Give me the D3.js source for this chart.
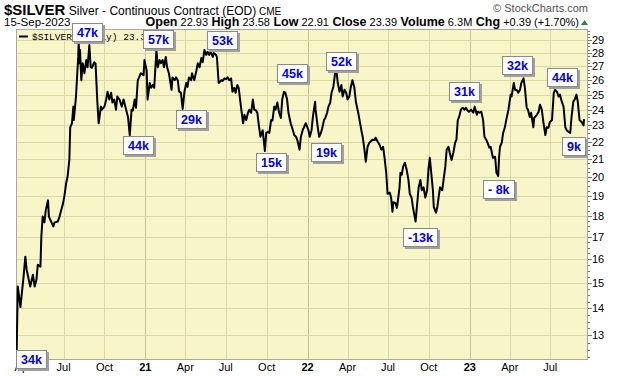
<!DOCTYPE html>
<html>
<head>
<meta charset="utf-8">
<script src="https://cdn.jsdelivr.net/npm/d3@7"></script>
<style>
  body { margin: 0; background: #fff; }
  svg { display: block; font-family: "Liberation Sans", Arial, sans-serif; }
</style>
</head>
<body>
<svg width="620" height="376"></svg>
<script>
// daily closes (date, price)
var silver2020 = [
  ["2020-03-17", 12.0], ["2020-03-20", 14.85], ["2020-03-26", 14.04], ["2020-04-02", 15.25], ["2020-04-06", 16.1],
  ["2020-04-09", 15.54], ["2020-04-17", 14.85], ["2020-04-23", 15.33], ["2020-04-27", 14.85], ["2020-05-01", 15.12],
  ["2020-05-04", 15.75], ["2020-05-10", 15.67], ["2020-05-12", 17.0], ["2020-05-15", 17.95], ["2020-05-19", 17.67],
  ["2020-05-22", 18.27], ["2020-05-27", 18.76], ["2020-05-29", 17.95], ["2020-06-08", 17.48], ["2020-06-11", 17.67],
  ["2020-06-18", 17.71], ["2020-06-22", 17.95], ["2020-06-26", 18.29], ["2020-06-30", 18.62], ["2020-07-03", 19.0],
  ["2020-07-07", 19.67], ["2020-07-10", 20.0], ["2020-07-14", 20.94], ["2020-07-16", 22.88], ["2020-07-20", 23.13],
  ["2020-07-23", 24.2], ["2020-07-24", 23.33], ["2020-07-29", 24.87], ["2020-07-31", 26.0], ["2020-08-03", 27.7],
  ["2020-08-04", 28.9], ["2020-08-06", 27.23], ["2020-08-07", 28.23], ["2020-08-10", 26.0], ["2020-08-13", 27.23],
  ["2020-08-17", 26.5], ["2020-08-21", 27.46], ["2020-08-24", 26.93], ["2020-08-28", 28.6], ["2020-08-31", 26.93],
  ["2020-09-03", 26.9], ["2020-09-08", 27.3], ["2020-09-11", 27.2], ["2020-09-15", 24.53], ["2020-09-18", 23.13],
  ["2020-09-23", 24.2], ["2020-09-25", 24.0], ["2020-10-01", 24.2], ["2020-10-05", 24.67], ["2020-10-08", 25.2],
  ["2020-10-12", 24.67], ["2020-10-16", 25.13], ["2020-10-19", 24.47], ["2020-10-23", 24.67], ["2020-10-27", 24.0],
  ["2020-10-30", 24.87], ["2020-11-04", 24.67], ["2020-11-09", 24.2], ["2020-11-13", 24.67], ["2020-11-17", 24.2],
  ["2020-11-23", 23.53], ["2020-11-27", 22.4], ["2020-12-01", 24.0], ["2020-12-04", 23.95], ["2020-12-08", 24.67],
  ["2020-12-11", 24.13], ["2020-12-15", 26.0], ["2020-12-18", 26.2], ["2020-12-22", 26.5], ["2020-12-28", 26.35],
  ["2020-12-30", 27.46]
];
var silver2021 = [
  ["2021-01-04", 26.7], ["2021-01-06", 24.67], ["2021-01-11", 25.8], ["2021-01-14", 25.47], ["2021-01-18", 25.67],
  ["2021-01-21", 25.47], ["2021-01-26", 28.23], ["2021-01-29", 26.93], ["2021-02-02", 27.46], ["2021-02-05", 27.23],
  ["2021-02-09", 27.46], ["2021-02-12", 26.93], ["2021-02-16", 27.7], ["2021-02-19", 26.93], ["2021-02-23", 26.5],
  ["2021-03-01", 25.33], ["2021-03-03", 26.2], ["2021-03-08", 26.0], ["2021-03-11", 26.2], ["2021-03-15", 26.0],
  ["2021-03-18", 25.2], ["2021-03-22", 25.13], ["2021-03-26", 24.05], ["2021-03-30", 25.2], ["2021-04-03", 25.8],
  ["2021-04-06", 25.53], ["2021-04-09", 26.2], ["2021-04-14", 26.0], ["2021-04-16", 26.5], ["2021-04-21", 26.0],
  ["2021-04-26", 26.7], ["2021-04-29", 27.23], ["2021-05-03", 26.93], ["2021-05-07", 27.62], ["2021-05-10", 27.3],
  ["2021-05-14", 28.23], ["2021-05-18", 27.85], ["2021-05-21", 28.08], ["2021-05-25", 27.85], ["2021-05-28", 28.08],
  ["2021-06-02", 27.7], ["2021-06-04", 28.0], ["2021-06-09", 27.85], ["2021-06-11", 27.7], ["2021-06-15", 25.8],
  ["2021-06-21", 26.0], ["2021-06-24", 25.95], ["2021-06-28", 26.13], ["2021-07-02", 26.07], ["2021-07-05", 26.2],
  ["2021-07-09", 26.0], ["2021-07-13", 26.13], ["2021-07-16", 25.2], ["2021-07-20", 25.47], ["2021-07-23", 25.13],
  ["2021-07-27", 25.67], ["2021-07-30", 25.47], ["2021-08-05", 24.0], ["2021-08-09", 23.13], ["2021-08-12", 23.67],
  ["2021-08-16", 23.33], ["2021-08-20", 23.8], ["2021-08-23", 24.0], ["2021-08-27", 23.8], ["2021-08-31", 24.67],
  ["2021-09-03", 24.0], ["2021-09-07", 23.95], ["2021-09-10", 23.8], ["2021-09-14", 22.88], ["2021-09-17", 22.3],
  ["2021-09-22", 22.7], ["2021-09-27", 21.45], ["2021-09-30", 22.53], ["2021-10-04", 22.6], ["2021-10-07", 22.53],
  ["2021-10-11", 23.33], ["2021-10-14", 23.3], ["2021-10-18", 24.2], ["2021-10-21", 24.0], ["2021-10-25", 24.47],
  ["2021-10-29", 23.8], ["2021-11-02", 23.47], ["2021-11-05", 24.67], ["2021-11-09", 25.2], ["2021-11-12", 25.13],
  ["2021-11-16", 24.67], ["2021-11-19", 23.8], ["2021-11-24", 23.13], ["2021-11-29", 22.7], ["2021-12-02", 22.4],
  ["2021-12-06", 22.3], ["2021-12-09", 22.1], ["2021-12-14", 21.53], ["2021-12-17", 22.3], ["2021-12-21", 22.7],
  ["2021-12-24", 22.88], ["2021-12-28", 23.13]
];
var silver2022 = [
  ["2022-01-03", 22.7], ["2022-01-06", 22.3], ["2022-01-10", 22.7], ["2022-01-13", 23.53], ["2022-01-18", 24.53],
  ["2022-01-19", 24.0], ["2022-01-24", 22.88], ["2022-01-27", 22.3], ["2022-01-31", 22.53], ["2022-02-03", 22.82],
  ["2022-02-07", 23.33], ["2022-02-10", 23.47], ["2022-02-14", 23.8], ["2022-02-17", 24.2], ["2022-02-21", 24.47],
  ["2022-02-24", 25.13], ["2022-02-28", 25.53], ["2022-03-04", 26.5], ["2022-03-07", 26.7], ["2022-03-10", 25.8],
  ["2022-03-14", 25.2], ["2022-03-18", 25.67], ["2022-03-21", 24.87], ["2022-03-25", 25.33], ["2022-03-29", 25.13],
  ["2022-04-01", 24.67], ["2022-04-05", 24.87], ["2022-04-08", 25.47], ["2022-04-12", 26.0], ["2022-04-16", 25.53],
  ["2022-04-20", 24.47], ["2022-04-25", 23.8], ["2022-04-28", 23.33], ["2022-05-02", 22.7], ["2022-05-05", 22.3],
  ["2022-05-09", 21.53], ["2022-05-12", 20.83], ["2022-05-16", 21.7], ["2022-05-20", 21.94], ["2022-05-27", 22.12],
  ["2022-06-01", 22.1], ["2022-06-03", 22.24], ["2022-06-08", 22.0], ["2022-06-12", 21.82], ["2022-06-16", 21.53],
  ["2022-06-20", 21.7], ["2022-06-23", 21.12], ["2022-06-27", 20.22], ["2022-06-30", 19.1], ["2022-07-05", 19.16],
  ["2022-07-08", 18.9], ["2022-07-11", 18.19], ["2022-07-13", 18.67], ["2022-07-18", 18.62], ["2022-07-21", 18.38],
  ["2022-07-22", 18.52], ["2022-07-27", 19.44], ["2022-07-29", 20.22], ["2022-08-01", 20.11], ["2022-08-04", 20.56],
  ["2022-08-08", 20.78], ["2022-08-12", 20.39], ["2022-08-16", 19.83], ["2022-08-19", 19.1], ["2022-08-23", 18.9],
  ["2022-08-26", 18.43], ["2022-09-01", 17.71], ["2022-09-04", 18.43], ["2022-09-08", 19.44], ["2022-09-12", 19.83],
  ["2022-09-15", 19.28], ["2022-09-19", 19.44], ["2022-09-23", 18.9], ["2022-09-27", 19.28], ["2022-09-30", 20.39],
  ["2022-10-03", 21.06], ["2022-10-05", 20.56], ["2022-10-10", 19.28], ["2022-10-12", 18.43], ["2022-10-17", 18.14],
  ["2022-10-20", 18.43], ["2022-10-24", 19.1], ["2022-10-26", 19.44], ["2022-10-31", 19.28], ["2022-11-03", 19.83],
  ["2022-11-07", 20.56], ["2022-11-10", 21.53], ["2022-11-14", 21.7], ["2022-11-17", 21.35], ["2022-11-21", 20.94],
  ["2022-11-25", 21.35], ["2022-11-29", 21.94], ["2022-12-02", 22.12], ["2022-12-05", 23.33], ["2022-12-08", 23.53],
  ["2022-12-12", 24.0], ["2022-12-16", 24.13], ["2022-12-20", 24.0], ["2022-12-23", 24.13], ["2022-12-27", 23.95],
  ["2022-12-30", 23.87]
];
var silver2023 = [
  ["2023-01-04", 24.0], ["2023-01-09", 23.8], ["2023-01-12", 24.2], ["2023-01-17", 23.67], ["2023-01-19", 23.87],
  ["2023-01-23", 23.8], ["2023-01-27", 23.87], ["2023-01-31", 23.33], ["2023-02-03", 22.3], ["2023-02-07", 22.12],
  ["2023-02-10", 21.94], ["2023-02-14", 21.65], ["2023-02-17", 21.7], ["2023-02-22", 21.06], ["2023-02-27", 21.12],
  ["2023-03-02", 20.22], ["2023-03-06", 20.05], ["2023-03-08", 21.12], ["2023-03-10", 21.7], ["2023-03-14", 21.94],
  ["2023-03-17", 22.53], ["2023-03-21", 22.88], ["2023-03-24", 23.33], ["2023-03-29", 24.0], ["2023-04-03", 25.0],
  ["2023-04-05", 24.87], ["2023-04-10", 25.8], ["2023-04-13", 25.33], ["2023-04-17", 25.3], ["2023-04-20", 25.13],
  ["2023-04-24", 25.33], ["2023-04-27", 25.8], ["2023-05-02", 26.13], ["2023-05-05", 25.47], ["2023-05-09", 24.13],
  ["2023-05-12", 24.0], ["2023-05-16", 23.53], ["2023-05-19", 23.8], ["2023-05-24", 22.88], ["2023-05-26", 23.47],
  ["2023-06-01", 23.67], ["2023-06-05", 23.87], ["2023-06-08", 24.33], ["2023-06-12", 24.0], ["2023-06-16", 23.13],
  ["2023-06-20", 22.4], ["2023-06-23", 22.88], ["2023-06-27", 22.85], ["2023-06-30", 23.2], ["2023-07-05", 23.33],
  ["2023-07-09", 25.13], ["2023-07-12", 25.33], ["2023-07-16", 25.2], ["2023-07-20", 24.87], ["2023-07-23", 25.0],
  ["2023-07-27", 24.53], ["2023-07-31", 24.2], ["2023-08-04", 22.88], ["2023-08-07", 22.7], ["2023-08-11", 22.6],
  ["2023-08-15", 22.53], ["2023-08-18", 23.53], ["2023-08-22", 24.53], ["2023-08-25", 24.67], ["2023-08-29", 25.0],
  ["2023-09-01", 24.53], ["2023-09-05", 23.33], ["2023-09-10", 23.2], ["2023-09-14", 23.0], ["2023-09-15", 23.39]
];

// price axis labels
var yTicks = [13, 14, 15, 16, 17, 18, 19, 20, 21, 22, 23, 24, 25, 26, 27, 28, 29];

// quote line in the header
var quoteFields = [["Open", "22.93"], ["High", "23.58"], ["Low", "22.91"], ["Close", "23.39"], ["Volume", "6.3M"], ["Chg", "+0.39 (+1.70%)"]];

// callout boxes: label, date and price of the box's top-left corner
var callouts = [
  ["47k", "2020-07-21", 30.37], ["57k", "2020-12-26", 29.8], ["53k", "2021-05-19", 29.72],
  ["44k", "2020-11-11", 22.34], ["29k", "2021-03-10", 23.98], ["45k", "2021-10-25", 27.17],
  ["52k", "2022-02-12", 28.07], ["15k", "2021-09-06", 21.33], ["19k", "2022-01-09", 21.92],
  ["31k", "2022-11-16", 25.87], ["32k", "2023-03-14", 27.77], ["44k", "2023-06-23", 26.88],
  ["9k", "2023-07-27", 22.28], ["- 8k", "2023-01-30", 19.82], ["-13k", "2022-08-03", 17.40],
  ["34k", "2020-03-17", 12.49]
];

var parse = d3.timeParse("%Y-%m-%d");
var series = [].concat(silver2020, silver2021, silver2022, silver2023).map(function (d) {
  return { date: parse(d[0]), close: d[1] };
});

var svg = d3.select("svg");
var plotL = 16, plotR = 588, plotT = 29, plotB = 360;

var x = d3.scaleTime()
  .domain([parse("2020-03-16"), parse("2023-09-24")])
  .range([plotL, plotR]);
var y = d3.scaleLog()
  .domain([12.16, 29.88])
  .range([plotB, plotT]);

// plot background
svg.append("rect")
  .attr("x", plotL).attr("y", plotT)
  .attr("width", plotR - plotL).attr("height", plotB - plotT)
  .attr("fill", "#f8f6c8");

var quarters = x.ticks(d3.timeMonth.every(3));

// grid
svg.append("g").selectAll("line")
  .data(quarters.filter(function (d) { return x(d) > plotL + 10; }))
  .enter().append("line")
  .attr("x1", function (d) { return Math.round(x(d)) + 0.5; })
  .attr("x2", function (d) { return Math.round(x(d)) + 0.5; })
  .attr("y1", plotT).attr("y2", plotB)
  .attr("stroke", function (d) { return d.getMonth() === 0 ? "#c4c48e" : "#d9d9a6"; })
  .attr("stroke-width", 1);

svg.append("g").selectAll("line")
  .data(yTicks)
  .enter().append("line")
  .attr("x1", plotL).attr("x2", plotR)
  .attr("y1", function (d) { return Math.round(y(d)) + 0.5; })
  .attr("y2", function (d) { return Math.round(y(d)) + 0.5; })
  .attr("stroke", "#d9d9a6")
  .attr("stroke-width", 1);

// border
svg.append("rect")
  .attr("x", plotL + 0.5).attr("y", plotT + 0.5)
  .attr("width", plotR - plotL - 1).attr("height", plotB - plotT - 1)
  .attr("fill", "none")
  .attr("stroke", "#a8a8a0");

// right axis ticks (minor + major)
svg.append("g").selectAll("line")
  .data(d3.range(12.25, 29.8, 0.25))
  .enter().append("line")
  .attr("x1", plotR).attr("x2", function (d) { return Math.abs(d - Math.round(d)) < 0.01 ? plotR + 4 : plotR + 2; })
  .attr("y1", function (d) { return Math.round(y(d)) + 0.5; })
  .attr("y2", function (d) { return Math.round(y(d)) + 0.5; })
  .attr("stroke", "#777");

svg.append("g").selectAll("text")
  .data(yTicks)
  .enter().append("text")
  .attr("x", plotR + 4)
  .attr("y", function (d) { return y(d) + 4; })
  .attr("font-size", 11)
  .attr("fill", "#000")
  .text(function (d) { return d; });

// x labels
svg.append("g").selectAll("text")
  .data(quarters)
  .enter().append("text")
  .attr("x", function (d) { return x(d); })
  .attr("y", 371)
  .attr("text-anchor", "middle")
  .attr("font-size", 11)
  .attr("font-weight", function (d) { return d.getMonth() === 0 ? "bold" : "normal"; })
  .text(function (d) { return d.getMonth() === 0 ? d3.timeFormat("%y")(d) : d3.timeFormat("%b")(d); });

// price line
svg.append("clipPath").attr("id", "plotclip")
  .append("rect")
  .attr("x", plotL).attr("y", plotT)
  .attr("width", plotR - plotL).attr("height", plotB - plotT);

var line = d3.line()
  .x(function (d) { return x(d.date); })
  .y(function (d) { return y(d.close); });

svg.append("path")
  .datum(series)
  .attr("clip-path", "url(#plotclip)")
  .attr("d", line)
  .attr("fill", "none")
  .attr("stroke", "#000")
  .attr("stroke-width", 2)
  .attr("stroke-linejoin", "round");

// legend inside the plot
svg.append("line")
  .attr("x1", 19).attr("x2", 28).attr("y1", 36.5).attr("y2", 36.5)
  .attr("stroke", "#000").attr("stroke-width", 2);
svg.append("text")
  .attr("x", 32).attr("y", 40)
  .attr("font-family", "'Liberation Mono', 'DejaVu Sans Mono', monospace")
  .attr("font-size", 9.5)
  .text("$SILVER (Daily) 23.39");

// callout boxes
var boxes = svg.append("g").selectAll("g")
  .data(callouts)
  .enter().append("g")
  .attr("transform", function (d) {
    return "translate(" + Math.round(x(parse(d[1]))) + "," + Math.round(y(d[2])) + ")";
  });

boxes.each(function (d) {
  var g = d3.select(this);
  var shadow = g.append("rect").attr("x", 2).attr("y", 2).attr("height", 19).attr("fill", "#a0a0a0");
  var box = g.append("rect").attr("x", 0.5).attr("y", 0.5).attr("height", 18)
    .attr("fill", "#fff").attr("stroke", "#8a8a8a");
  var t = g.append("text")
    .attr("x", 5).attr("y", 14)
    .attr("font-size", 12.5).attr("font-weight", "bold")
    .attr("fill", "#0000ee")
    .text(d[0]);
  var w = Math.round(t.node().getComputedTextLength()) + 10;
  shadow.attr("width", w);
  box.attr("width", w - 1);
});

// header
var title = svg.append("text").attr("x", 4).attr("y", 15);
title.append("tspan").attr("font-size", 15).attr("font-weight", "bold").text("$SILVER");
title.append("tspan").attr("font-size", 12).text(" Silver - Continuous Contract (EOD)");
title.append("tspan").attr("font-size", 10).text(" CME");

svg.append("text")
  .attr("x", 4).attr("y", 26)
  .attr("font-size", 11.5)
  .text("15-Sep-2023");

svg.append("text")
  .attr("x", 588).attr("y", 12)
  .attr("text-anchor", "end")
  .attr("font-size", 11)
  .attr("fill", "#555")
  .text("\u00a9 StockCharts.com");

var quote = svg.append("text")
  .attr("x", 579).attr("y", 26)
  .attr("text-anchor", "end");
quoteFields.forEach(function (q, i) {
  quote.append("tspan").attr("font-size", 12.5).attr("font-weight", "bold").text((i ? " " : "") + q[0]);
  quote.append("tspan").attr("font-size", 11).text(" " + q[1]);
});

svg.append("path")
  .attr("d", "M581,25 L588,25 L584.5,20 Z")
  .attr("fill", "#2a8a2a");
</script>
</body>
</html>
